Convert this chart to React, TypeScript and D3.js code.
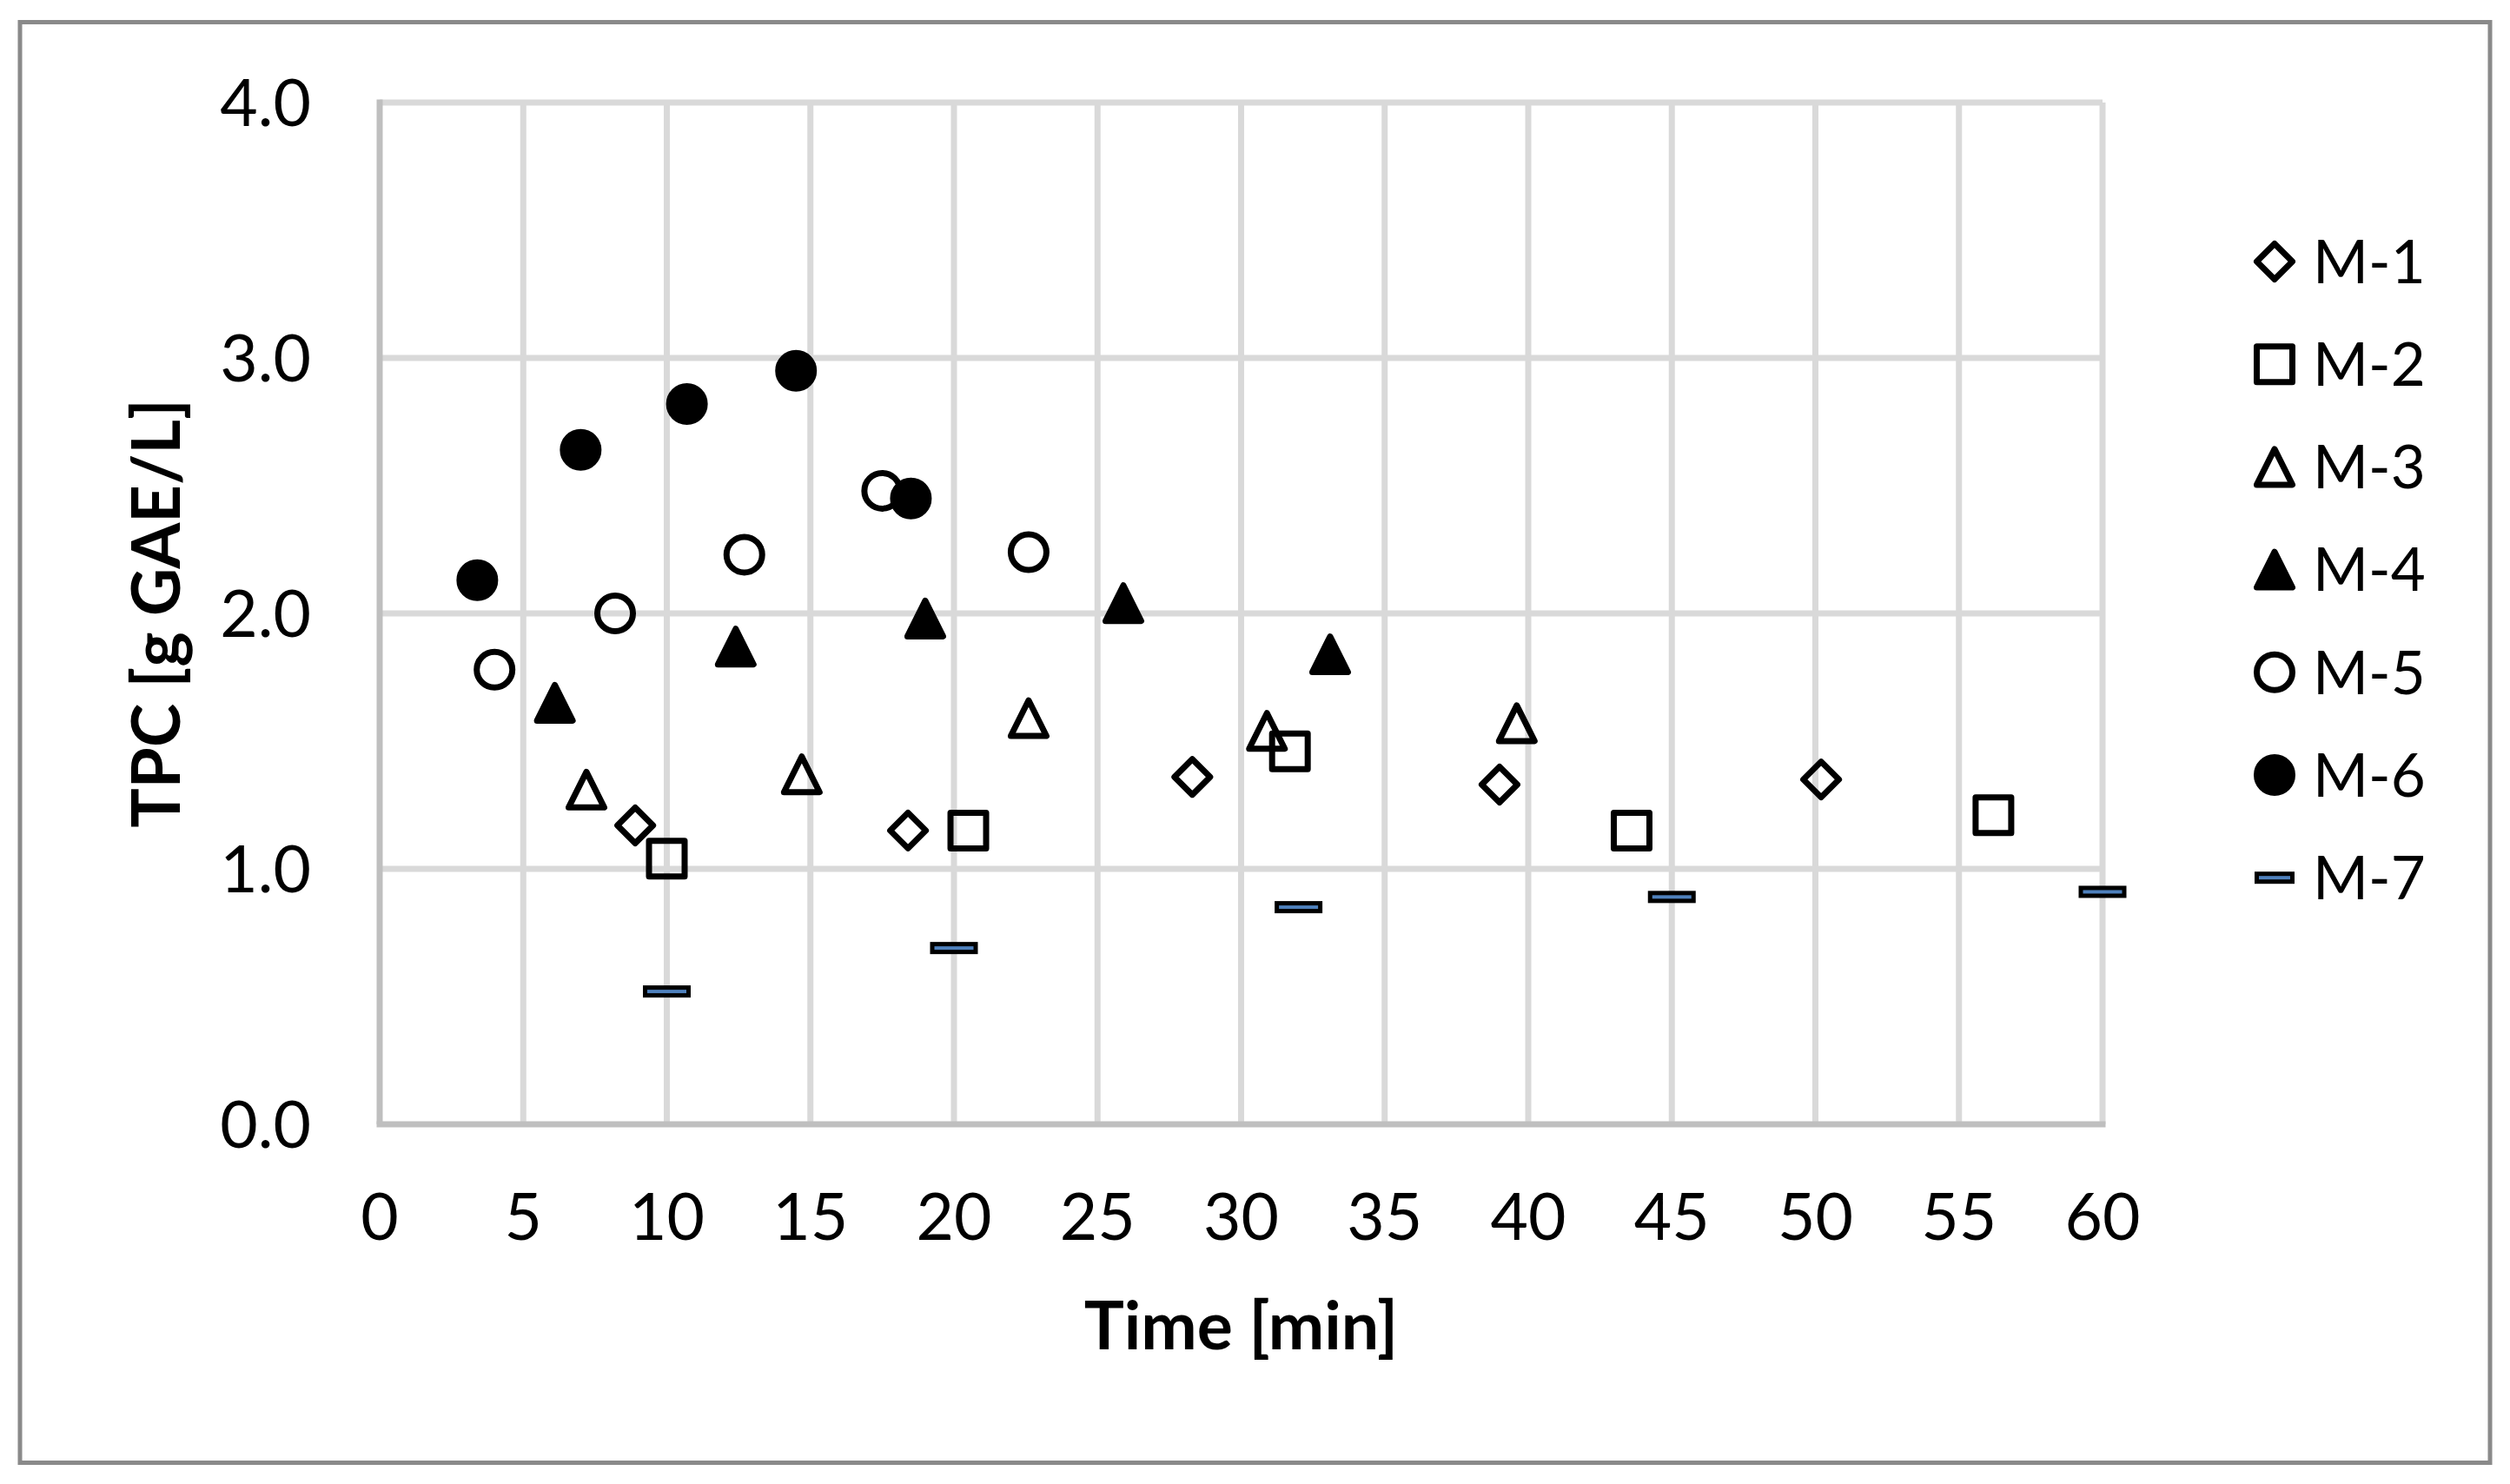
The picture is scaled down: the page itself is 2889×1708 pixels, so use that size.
import React from 'react';
import * as d3 from 'd3';

// series values (Time [min] vs TPC [g GAE/L])
const seriesNames = ['M-1', 'M-2', 'M-3', 'M-4', 'M-5', 'M-6', 'M-7'];

const m1X = [8.9, 18.4, 28.3, 39.0, 50.2];
const m1Y = [1.17, 1.15, 1.36, 1.33, 1.35];
const m2X = [10.0, 20.5, 31.7, 43.6, 56.2];
const m2Y = [1.04, 1.15, 1.46, 1.15, 1.21];
const m3X = [7.2, 14.7, 22.6, 30.9, 39.6];
const m3Y = [1.31, 1.37, 1.59, 1.54, 1.57];
const m4X = [6.1, 12.4, 19.0, 25.9, 33.1];
const m4Y = [1.65, 1.87, 1.98, 2.04, 1.84];
const m5X = [4.0, 8.2, 12.7, 17.5, 22.6];
const m5Y = [1.78, 2.0, 2.23, 2.48, 2.24];
const m6X = [3.4, 7.0, 10.7, 14.5, 18.5];
const m6Y = [2.13, 2.64, 2.82, 2.95, 2.45];
const m7X = [10, 20, 32, 45, 60];
const m7Y = [0.52, 0.69, 0.85, 0.89, 0.91];

const xTicks = [0, 5, 10, 15, 20, 25, 30, 35, 40, 45, 50, 55, 60];
const yTicks = [0, 1, 2, 3, 4];

const W = 2889;
const H = 1708;
const margin = { top: 118, right: 469, bottom: 414, left: 437 };

const FONT = 'Lato, "Open Sans", sans-serif';
const GRID = '#d9d9d9';
const AXIS = '#bfbfbf';

type Marker = 'diamond' | 'square' | 'triangle' | 'triangleFilled' | 'circle' | 'circleFilled' | 'dash';
const markers: Marker[] = ['diamond', 'square', 'triangle', 'triangleFilled', 'circle', 'circleFilled', 'dash'];

const xs = [m1X, m2X, m3X, m4X, m5X, m6X, m7X];
const ys = [m1Y, m2Y, m3Y, m4Y, m5Y, m6Y, m7Y];

// one marker glyph centred on 0,0
const MarkerGlyph = ({ type, dashW = 50 }: { type: Marker; dashW?: number }) => {
  const h = 20.5;
  const sw = 7;
  switch (type) {
    case 'diamond':
      return <path d={`M0,${-h}L${h},0L0,${h}L${-h},0Z`} fill="none" stroke="#000" strokeWidth={sw} strokeLinejoin="round" />;
    case 'square':
      return <rect x={-h} y={-h} width={2 * h} height={2 * h} fill="none" stroke="#000" strokeWidth={sw} strokeLinejoin="round" />;
    case 'triangle':
    case 'triangleFilled':
      return (
        <path
          d={`M0,${-h}L${h},${h}L${-h},${h}Z`}
          fill={type === 'triangleFilled' ? '#000' : 'none'}
          stroke="#000"
          strokeWidth={sw}
          strokeLinejoin="round"
        />
      );
    case 'circle':
    case 'circleFilled':
      return <circle r={h} fill={type === 'circleFilled' ? '#000' : 'none'} stroke="#000" strokeWidth={sw} />;
    case 'dash':
      return <rect x={-dashW / 2} y={-4.5} width={dashW} height={9} fill="#4f81bd" stroke="#000" strokeWidth={5} />;
  }
};

export default function App() {
  const x = d3.scaleLinear().domain([0, 60]).range([margin.left, W - margin.right]);
  const y = d3.scaleLinear().domain([0, 4]).range([H - margin.bottom, margin.top]);

  const plotCx = (x(0) + x(60)) / 2;
  const plotCy = (y(0) + y(4)) / 2;

  const legendX = 2618;
  const legendY0 = 301;
  const legendStep = 118.2;

  return (
    <svg
      width={W}
      height={H}
      style={{ position: 'absolute', left: 0, top: 0, display: 'block', background: '#fff' }}
      fontFamily={FONT}
    >
      <rect x={0} y={0} width={W} height={H} fill="#fff" />
      {/* chart border */}
      <rect x={23} y={25.5} width={2843} height={1658} fill="none" stroke="#8a8a8a" strokeWidth={5} />

      {/* gridlines */}
      {yTicks.filter(t => t > 0).map(t => (
        <line key={'gy' + t} x1={x(0)} x2={x(60)} y1={y(t)} y2={y(t)} stroke={GRID} strokeWidth={7} />
      ))}
      {xTicks.filter(t => t > 0).map(t => (
        <line key={'gx' + t} x1={x(t)} x2={x(t)} y1={y(0)} y2={y(4)} stroke={GRID} strokeWidth={7} />
      ))}
      {/* axis lines */}
      <line x1={x(0)} x2={x(0)} y1={y(4) - 3.5} y2={y(0)} stroke={AXIS} strokeWidth={7} />
      <line x1={x(0) - 3.5} x2={x(60) + 3.5} y1={y(0)} y2={y(0)} stroke={AXIS} strokeWidth={7} />

      {/* tick labels */}
      {yTicks.map(t => (
        <text key={'ly' + t} x={358} y={y(t)} dy="0.36em" textAnchor="end" fontSize={75} fill="#000">
          {d3.format('.1f')(t)}
        </text>
      ))}
      {xTicks.map(t => (
        <text key={'lx' + t} x={x(t)} y={1427} textAnchor="middle" fontSize={75} fill="#000">
          {t}
        </text>
      ))}

      {/* axis titles */}
      <text x={plotCx} y={1553} textAnchor="middle" fontSize={77} fontWeight="bold" fill="#000">
        Time [min]
      </text>
      <text
        transform={`translate(207, ${plotCy}) rotate(-90)`}
        textAnchor="middle"
        fontSize={76}
        fontWeight="bold"
        fill="#000"
      >
        TPC [g GAE/L]
      </text>

      {/* series */}
      {markers.map((m, si) => (
        <g key={'s' + si}>
          {xs[si].map((v, i) => (
            <g key={i} transform={`translate(${x(v)}, ${y(ys[si][i])})`}>
              <MarkerGlyph type={m} />
            </g>
          ))}
        </g>
      ))}

      {/* legend */}
      {seriesNames.map((name, i) => (
        <g key={'lg' + name} transform={`translate(${legendX}, ${legendY0 + i * legendStep})`}>
          <MarkerGlyph type={markers[i]} dashW={41} />
          <text x={44} y={0} dy="0.36em" fontSize={69} fill="#000">
            {name}
          </text>
        </g>
      ))}
    </svg>
  );
}
